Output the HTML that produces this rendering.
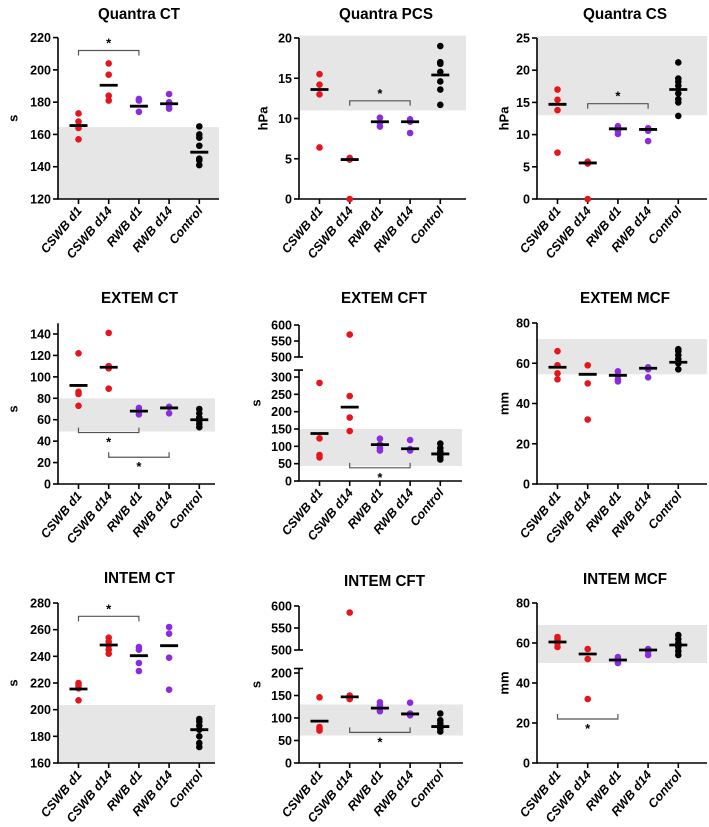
<!DOCTYPE html>
<html><head><meta charset="utf-8">
<style>
html,body{margin:0;padding:0;background:#fff;}
svg{display:block;font-family:"Liberation Sans",Arial,sans-serif;}
</style></head>
<body>
<svg id="fig" width="709" height="827" viewBox="0 0 709 827"></svg>
<script>
const categories = ["CSWB d1","CSWB d14","RWB d1","RWB d14","Control"];
const groupColors = ["#e8141b","#e8141b","#8a2be2","#8a2be2","#000000"];

const qctValues = [[173,168,164,157],[204,197,184,181],[182,181,174],[185,180,178,176],[165,160,158,153,145,144,141]];
const qctMedians = [165.5,190.5,177.5,179,149];
const qctTicks = [120,140,160,180,200,220];

const qpcsValues = [[15.5,14.2,13,6.4],[5.1,4.9,0],[10.1,9.5,9],[9.9,9.6,8.2],[19,17,16.8,15.8,14.6,13.6,11.7]];
const qpcsMedians = [13.6,4.9,9.6,9.6,15.4];
const qpcsTicks = [0,5,10,15,20];

const qcsValues = [[17,15.4,13.8,7.2],[5.8,5.5,0],[11.3,10.6,10.1],[11,10.6,9],[21.2,18.7,18.2,17.6,16.4,15.5,15,12.9]];
const qcsMedians = [14.7,5.6,10.9,10.8,17];
const qcsTicks = [0,5,10,15,20,25];

const ectValues = [[122,86,84,73],[141,110,108,89],[71,68,65],[72,66],[70,66,62,59,56,53]];
const ectMedians = [92,109,68,71,60];
const ectTicks = [0,20,40,60,80,100,120,140];

const ecftValues = [[283,123,75,68],[570,245,183,144],[122,105,95,88],[118,92,88],[108,95,85,75,68,62]];
const ecftMedians = [137,213,105,93,78];
const ecftTicksLow = [0,50,100,150,200,250,300];
const ecftTicksHigh = [500,550,600];

const emcfValues = [[66,59,55,52],[59,50,32],[56,54,52,51],[58,57,53],[67,66,64,62,60,57]];
const emcfMedians = [58,54.5,54,57.5,60.5];
const emcfTicks = [0,20,40,60,80];

const ictValues = [[220,218,216,207],[254,251,248,245,242],[247,245,235,229],[262,257,239,215],[193,191,188,185,180,175,172]];
const ictMedians = [215.5,248.5,240.5,248,185];
const ictTicks = [160,180,200,220,240,260,280];

const icftValues = [[146,80,76,72],[585,150,145,142],[135,128,122,115],[134,110,106],[110,95,88,82,76,70]];
const icftMedians = [93,147,122,109,81];
const icftTicksLow = [0,50,100,150,200];
const icftTicksHigh = [500,550,600];

const imcfValues = [[63,62,61,60,58],[57,52,32],[53,52,51,50],[57,56,54],[64,62,60,58,56,54]];
const imcfMedians = [60.5,54.5,51.5,56.5,59];
const imcfTicks = [0,20,40,60,80];

const panels = [
 {key:"quantra-ct",title:"Quantra CT",tx:139,tw:82,ax:58,end:219,titleY:19,yTitle:"s",yTitleX:14,
  segs:[{d0:120,d1:220,p0:199,p1:37.6,ticks:qctTicks,top:220}],vals:qctValues,med:qctMedians,
  shade:[120,164.5],sig:[{a:0,b:2,v:212,up:false}]},
 {key:"quantra-pcs",title:"Quantra PCS",tx:386,tw:94,ax:299,end:466,titleY:19,yTitle:"hPa",yTitleX:264,
  segs:[{d0:0,d1:20,p0:199,p1:38,ticks:qpcsTicks,top:20}],vals:qpcsValues,med:qpcsMedians,
  shade:[11,20.3],sig:[{a:1,b:3,v:12.2,up:false}]},
 {key:"quantra-cs",title:"Quantra CS",tx:625,tw:84,ax:537,end:707,titleY:19,yTitle:"hPa",yTitleX:505,
  segs:[{d0:0,d1:25,p0:199,p1:38,ticks:qcsTicks,top:25}],vals:qcsValues,med:qcsMedians,
  shade:[13,25.3],sig:[{a:1,b:3,v:14.8,up:false}]},
 {key:"extem-ct",title:"EXTEM CT",tx:139.5,tw:77,ax:58,end:215,titleY:303,yTitle:"s",yTitleX:14,
  segs:[{d0:0,d1:140,p0:484,p1:334,ticks:ectTicks,top:150}],vals:ectValues,med:ectMedians,
  shade:[49,80],sig:[{a:0,b:2,v:48,up:true},{a:1,b:3,v:25,up:true}]},
 {key:"extem-cft",title:"EXTEM CFT",tx:384,tw:86,ax:299,end:462,titleY:303,yTitle:"s",yTitleX:257,
  segs:[{d0:0,d1:300,p0:481,p1:377,ticks:ecftTicksLow,top:320,brk:true},
        {d0:500,d1:600,p0:357,p1:325,ticks:ecftTicksHigh,top:600,bot:500}],
  vals:ecftValues,med:ecftMedians,shade:[43,150],sig:[{a:1,b:3,v:38,up:true}]},
 {key:"extem-mcf",title:"EXTEM MCF",tx:625,tw:90,ax:537,end:707,titleY:303,yTitle:"mm",yTitleX:505,
  segs:[{d0:0,d1:80,p0:484,p1:323,ticks:emcfTicks,top:80}],vals:emcfValues,med:emcfMedians,
  shade:[54.5,72],sig:[]},
 {key:"intem-ct",title:"INTEM CT",tx:139.5,tw:71,ax:58,end:215,titleY:583,yTitle:"s",yTitleX:14,
  segs:[{d0:160,d1:280,p0:763,p1:603,ticks:ictTicks,top:280}],vals:ictValues,med:ictMedians,
  shade:[160,203.5],sig:[{a:0,b:2,v:270,up:false}]},
 {key:"intem-cft",title:"INTEM CFT",tx:384.5,tw:81,ax:299,end:463,titleY:586,yTitle:"s",yTitleX:257,
  segs:[{d0:0,d1:200,p0:763,p1:673,ticks:icftTicksLow,top:210,brk:true},
        {d0:500,d1:600,p0:650,p1:606,ticks:icftTicksHigh,top:600,bot:500}],
  vals:icftValues,med:icftMedians,shade:[61,130],sig:[{a:1,b:3,v:68,up:true}]},
 {key:"intem-mcf",title:"INTEM MCF",tx:625,tw:84,ax:537,end:707,titleY:584,yTitle:"mm",yTitleX:505,
  segs:[{d0:0,d1:80,p0:763,p1:603,ticks:imcfTicks,top:80}],vals:imcfValues,med:imcfMedians,
  shade:[50,69],sig:[{a:0,b:2,v:22,up:true}]}
];

const NS="http://www.w3.org/2000/svg";
const svg=document.getElementById("fig");
function mk(tag,attrs,parent){const e=document.createElementNS(NS,tag);for(const k in attrs)e.setAttribute(k,attrs[k]);(parent||svg).appendChild(e);return e;}

panels.forEach(p=>{
  const g=mk("g",{});
  
  
  const yScale=v=>{
    let s=p.segs[0];
    if(v>=450 && p.segs.length>1) s=p.segs[1];
    return s.p0+(v-s.d0)*(s.p1-s.p0)/(s.d1-s.d0);
  };
  const xScale=i=>p.ax+20.5+i*30.2;
  const base=p.segs[0].p0;
  const sh=mk("rect",{x:p.ax,y:yScale(p.shade[1]),width:p.end-p.ax,height:yScale(p.shade[0])-yScale(p.shade[1]),fill:"#e6e6e6"},g);
  
  
  const t=mk("text",{x:p.tx,y:p.titleY,"text-anchor":"middle","font-size":"16","font-weight":"bold",fill:"#000","textLength":p.tw,"lengthAdjust":"spacingAndGlyphs"},g);
  t.textContent=p.title;
  
  
  p.segs.forEach(sg=>{
    const topY=sg.p0+(sg.top-sg.d0)*(sg.p1-sg.p0)/(sg.d1-sg.d0);
    const ln=mk("line",{x1:p.ax,x2:p.ax,y1:sg.p0,y2:topY,stroke:"#000","stroke-width":1.6},g);
    
    
    if(sg.brk){mk("line",{x1:p.ax-5,x2:p.ax+4,y1:topY,y2:topY,stroke:"#000","stroke-width":1.6},g);}
    if(sg.bot!==undefined){mk("line",{x1:p.ax,x2:p.ax+4,y1:sg.p0,y2:sg.p0,stroke:"#000","stroke-width":1.6},g);}
    sg.ticks.forEach(tv=>{
      const y=sg.p0+(tv-sg.d0)*(sg.p1-sg.p0)/(sg.d1-sg.d0);
      mk("line",{x1:p.ax-5,x2:p.ax,y1:y,y2:y,stroke:"#000","stroke-width":1.6},g);
      const tl=mk("text",{x:p.ax-7,y:y+4.5,"text-anchor":"end","font-size":"12.5","font-weight":"bold",fill:"#000"},g);
      tl.textContent=tv;
      
      
    });
  });
  const xa=mk("line",{x1:p.ax-0.8,x2:p.end,y1:base,y2:base,stroke:"#000","stroke-width":1.6},g);
  
  
  const midY=(base+p.segs[p.segs.length-1].p1)/2;
  const yt=mk("text",{x:p.yTitleX,y:midY,"text-anchor":"middle","font-size":"13","font-weight":"bold",transform:`rotate(-90 ${p.yTitleX} ${midY})`,"dominant-baseline":"middle"},g);
  yt.textContent=p.yTitle;
  
  
  categories.forEach((c,i)=>{
    const cx=xScale(i);
    mk("line",{x1:cx,x2:cx,y1:base,y2:base+5,stroke:"#000","stroke-width":1.6},g);
    const lx=cx+4, ly=base+12;
    const cl=mk("text",{x:lx,y:ly,"text-anchor":"end","font-size":"12.5","font-weight":"bold","font-style":"italic",transform:`rotate(-50 ${lx} ${ly})`},g);
    cl.textContent=c;
    
    
    p.vals[i].forEach(v=>{
      const d=mk("circle",{cx:cx,cy:yScale(v),r:3.3,fill:groupColors[i]},g);
      
      
    });
    const m=mk("line",{x1:cx-9,x2:cx+9,y1:yScale(p.med[i]),y2:yScale(p.med[i]),stroke:"#000","stroke-width":2.8},g);
    
    
  });
  p.sig.forEach(s=>{
    const x1=xScale(s.a),x2=xScale(s.b),y=yScale(s.v);
    const dy=s.up?-5:5;
    const br=mk("path",{d:`M${x1},${y+dy}V${y}H${x2}V${y+dy}`,fill:"none",stroke:"#555","stroke-width":1.2},g);
    
    
    const st=mk("text",{x:(x1+x2)/2,y:s.up?y+14:y-3,"text-anchor":"middle","font-size":"13","font-weight":"bold"},g);
    st.textContent="*";
    
    
  });
});
</script>
</body></html>
